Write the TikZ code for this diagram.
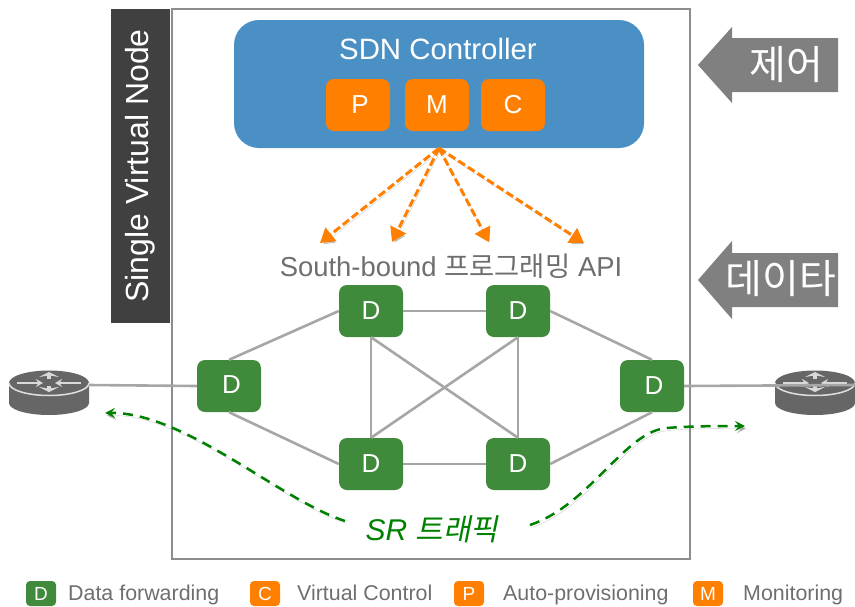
\documentclass[tikz,border=0pt]{standalone}
\usepackage{fontspec}
\setmainfont{Liberation Sans}
\newfontfamily\krfont{Noto Sans CJK KR}
\newfontfamily\krslant[FakeSlant=0.2]{Noto Sans CJK KR}
\usetikzlibrary{arrows.meta}
\definecolor{ctrlblue}{HTML}{4A90C4}
\definecolor{dataorange}{HTML}{FF7F00}
\definecolor{datagreen}{HTML}{408A3B}
\definecolor{srgreen}{HTML}{008000}
\definecolor{labelgray}{HTML}{6E6E6E}
\definecolor{linegray}{HTML}{A6A6A6}
\newcommand{\fsize}[1]{\fontsize{#1}{#1}\selectfont}
\begin{document}
\begin{tikzpicture}[x=1pt,y=-1pt]
\tikzstyle{green node}=[rectangle,rounded corners=8,fill=datagreen,text=white,minimum width=64,minimum height=52,inner sep=0,font=\fsize{26}]
\tikzstyle{orange node}=[rectangle,rounded corners=8,fill=dataorange,text=white,minimum width=64,minimum height=52,inner sep=0,font=\fsize{26}]
\tikzset{
	legend green/.style={rectangle,rounded corners=4,fill=datagreen,text=white,minimum width=30,minimum height=25,inner sep=0,font=\fsize{19}},
	legend orange/.style={legend green,fill=dataorange},
	legend text/.style={anchor=base west,inner sep=0,text=labelgray,font=\fsize{21.4}},
	side arrow/.style={fill=black!50},
	side text/.style={text=white,inner sep=0,font=\fsize{40}\krfont},
	soft shade/.style={preaction={draw=black,opacity=.2,transform canvas={shift={(1.5pt,-2.5pt)}}}},
	link/.style={draw=linegray,line width=2.6},
	push/.style={draw=dataorange,line width=3,dash pattern=on 8pt off 3.5pt,-{Triangle[length=14pt,width=17pt]},soft shade},
	traffic/.style={draw=srgreen,line width=2.5,dash pattern=on 10pt off 7pt,-{Stealth[length=10pt,width=10pt,inset=4pt]},soft shade},
	router/.pic={
		\fill[black!60] (-40,-10) -- (-40,10) arc[start angle=180,end angle=0,x radius=40,y radius=12] -- (40,-10) -- cycle;
		\fill[black!60] (0,-10) ellipse[x radius=40,y radius=12.5];
		\draw[black!12,line width=1.5] (-40,-10) arc[start angle=180,end angle=0,x radius=40,y radius=12.5];
		\draw[black!15,line width=1.3,-{Stealth[length=7pt,width=8pt]}] (-32,-10) -- (-6,-10);
		\draw[black!15,line width=1.3,-{Stealth[length=7pt,width=8pt]}] (32,-10) -- (6,-10);
		\draw[black!15,line width=4,-{Stealth[length=5pt,width=20pt]}] (0,-14) -- (0,-21);
		\draw[black!15,line width=4,-{Stealth[length=5pt,width=20pt]}] (0,-7) -- (0,-1);
		\coordinate (-port) at (40,-8);
	}
}
\useasboundingbox (0,0) rectangle (855,606);

% frame and side labels
\node[rectangle,draw=black!45,line width=2.6,minimum width=518,minimum height=550,inner sep=0] (frame) at (431,284) {};
\node[rectangle,fill=black!75,text=white,rotate=90,minimum width=314,minimum height=59,inner sep=0,font=\fsize{32}] (single) at (140.5,166) {\raisebox{-3.5pt}{Single Virtual Node}};
\fill[side arrow] (698,65) -- ++(34,-38) -- ++(0,11) -- ++(106,0) -- ++(0,54) -- ++(-106,0) -- ++(0,11) -- cycle;
\node[side text] (ctrltext) at (786,65) {제어};
\fill[side arrow] (698,280) -- ++(34,-39) -- ++(0,12) -- ++(106,0) -- ++(0,54) -- ++(-106,0) -- ++(0,12) -- cycle;
\node[side text] (datatext) at (781,279) {데이타};

% controller
\node[rectangle,rounded corners=25,fill=ctrlblue,minimum width=410,minimum height=128,inner sep=0] (controller) at (439,84) {};
\node[text=white,inner sep=0,font=\fsize{29.4}] (ctrlname) at (438,49) {SDN Controller};
\node[orange node] (P) at (358,105) {\kern4pt P};
\node[orange node] (M) at (437,105) {M};
\node[orange node] (C) at (513,105) {C};

% south-bound
\coordinate (apiA) at (320,243);
\coordinate (apiB) at (392,242);
\coordinate (apiC) at (489,242);
\coordinate (apiD) at (584,243);
\draw[push] (controller.south) -- (apiA);
\draw[push] (controller.south) -- (apiB);
\draw[push] (controller.south) -- (apiC);
\draw[push] (controller.south) -- (apiD);
\node[text=labelgray,inner sep=0,font=\fsize{27.4}] (api) at (451,266) {South-bound {\krfont 프로그래밍} API};

% data plane
\node[green node] (left) at (229,386) {\raisebox{2pt}{\kern5pt D}};
\node[green node] (topL) at (371,311) {D};
\node[green node] (topR) at (518,311) {D};
\node[green node] (botL) at (371,464) {D};
\node[green node] (botR) at (518,464) {D};
\node[green node] (right) at (652,386) {\raisebox{-3pt}{\kern4pt D}};
\draw[link] (left.north) -- (topL.west);
\draw[link] (left.south) -- (botL.west);
\draw[link] (topL.east) -- (topR.west);
\draw[link] (botL.east) -- (botR.west);
\draw[link] (topL.south) -- (botL.north);
\draw[link] (topR.south) -- (botR.north);
\draw[link] (topL.south) -- (botR.north);
\draw[link] (topR.south) -- (botL.north);
\draw[link] (topR.east) -- (right.north);
\draw[link] (botR.east) -- (right.south);

% routers
\pic (routerL) at (49,393) {router};
\pic (routerR) at (815,393) {router};
\draw[link] (routerL-port) -- (left.west);
\draw[link] (right.east) -- (routerR-port);

% SR traffic
\node[text=srgreen,inner sep=0,font=\fsize{30}] (sr) at (432,529) {\textit{SR} {\krslant 트래픽}};
\coordinate (srL) at (345,521);
\coordinate (srR) at (530,525);
\coordinate (tipL) at (105,413);
\coordinate (tipR) at (745,426);
\draw[traffic] (srL) .. controls (280,500) and (185,412) .. (tipL);
\draw[traffic] (srR) .. controls (590,505) and (625,431) .. (667,428) .. controls (690,426) and (720,426) .. (tipR);

% legend
\node[legend green] (legD) at (41,593.5) {D};
\node[legend text] (legDtext) at (68,600) {Data forwarding};
\node[legend orange] (legC) at (265,593.5) {C};
\node[legend text] (legCtext) at (297,600) {Virtual Control};
\node[legend orange] (legP) at (469,593.5) {P};
\node[legend text] (legPtext) at (503,600) {Auto-provisioning};
\node[legend orange] (legM) at (708,593.5) {M};
\node[legend text] (legMtext) at (743,600) {Monitoring};
\end{tikzpicture}
\end{document}
